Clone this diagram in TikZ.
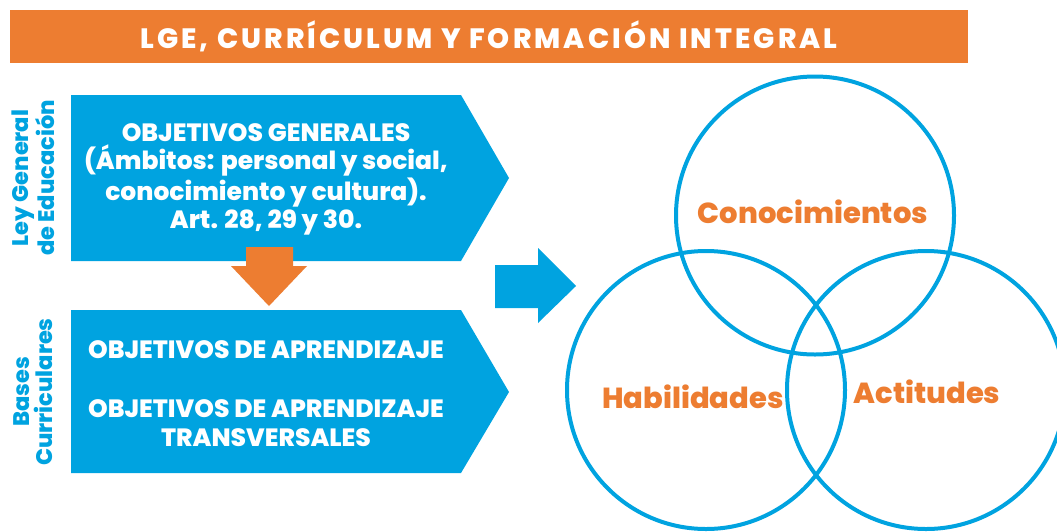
\documentclass[tikz,border=0pt]{standalone}
\usepackage{fontspec}
\setmainfont{Poppins}[BoldFont={Poppins ExtraBold}]
\definecolor{lgeorange}{HTML}{ED7D31}
\definecolor{lgeblue}{HTML}{00A3E0}
\begin{document}
\begin{tikzpicture}[x=1pt,y=-1pt,
  titlebox/.style={fill=lgeorange,text=white,minimum width=958pt,minimum height=53pt,inner sep=0pt,
    font=\fontsize{28}{30}\selectfont\bfseries\addfontfeature{LetterSpace=11}},
  boxtext/.style={text=white,align=center,inner sep=0pt,font=\fontsize{25}{28.5}\selectfont\bfseries},
  sidelabel/.style={text=lgeblue,align=center,rotate=90,inner sep=0pt,font=\fontsize{22.5}{23}\selectfont\bfseries},
  venn/.style={circle,draw=lgeblue,line width=4pt,minimum size=278pt,inner sep=0pt},
  vennlabel/.style={text=lgeorange,inner sep=0pt,font=\fontsize{29}{31}\selectfont\bfseries}]
\useasboundingbox (0,0) rectangle (1057,531);
\fill[white] (0,0) rectangle (1057,531);
% title
\node[titlebox] (title) at (489,36.5) {LGE, CURRÍCULUM Y FORMACIÓN INTEGRAL};
% top box
\fill[lgeblue] (71,95) -- (461,95) -- (509,178) -- (461,261) -- (71,261) -- cycle;
\node[boxtext] (lgetext) at (266,179.5) {OBJETIVOS GENERALES\\(Ámbitos: personal y social,\\conocimiento y cultura).\\Art. 28, 29 y 30.};
\node[sidelabel] (lgelabel) at (33,178) {Ley General\\de Educación};
% orange arrow
\fill[lgeorange] (246,247) -- (293,247) -- (293,266) -- (307,266) -- (269,306) -- (231,266) -- (246,266) -- cycle;
% bottom box
\fill[lgeblue] (71,310) -- (461,310) -- (509,392) -- (461,473) -- (71,473) -- cycle;
\node[boxtext] (oa) at (266,350) {OBJETIVOS DE APRENDIZAJE};
\node[boxtext] (oat) at (266,423) {OBJETIVOS DE APRENDIZAJE\\TRANSVERSALES};
\node[sidelabel] (bclabel) at (33,392) {Bases\\Curriculares};
% blue arrow
\fill[lgeblue] (495,265) -- (538,265) -- (538,248) -- (576,286) -- (538,323) -- (538,308) -- (495,308) -- cycle;
% venn
\node[venn] (con) at (815,215.5) {};
\node[venn] (hab) at (706,390) {};
\node[venn] (act) at (926,390) {};
\node[vennlabel] (conl) at (813,212) {Conocimientos};
\node[vennlabel] (habl) at (693,397) {Habilidades};
\node[vennlabel] (actl) at (927,392) {Actitudes};
\end{tikzpicture}
\end{document}
